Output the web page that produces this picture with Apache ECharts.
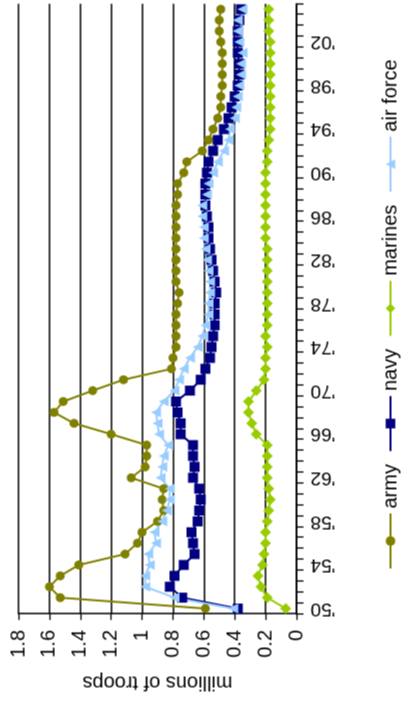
<!DOCTYPE html>
<html>
<head>
<meta charset="utf-8">
<script src="https://cdn.jsdelivr.net/npm/echarts@6/dist/echarts.min.js"></script>
<style>
html,body{margin:0;padding:0;width:409px;height:702px;overflow:hidden;background:#fff;}
#chart{position:absolute;width:702px;height:409px;left:-146.5px;top:146.5px;transform:rotate(-90deg);transform-origin:50% 50%;}
</style>
</head>
<body>
<div id="chart"></div>
<script>
// Years 1950..2005
const years = [1950,1951,1952,1953,1954,1955,1956,1957,1958,1959,1960,1961,1962,1963,1964,1965,1966,1967,1968,1969,
1970,1971,1972,1973,1974,1975,1976,1977,1978,1979,1980,1981,1982,1983,1984,1985,1986,1987,1988,1989,
1990,1991,1992,1993,1994,1995,1996,1997,1998,1999,2000,2001,2002,2003,2004,2005];

const army = [0.59,1.53,1.60,1.53,1.41,1.11,1.03,1.00,0.90,0.86,0.87,0.86,1.07,0.98,0.97,0.97,1.20,1.44,1.57,1.51,
1.32,1.12,0.81,0.80,0.78,0.78,0.78,0.78,0.77,0.76,0.78,0.78,0.78,0.78,0.78,0.78,0.78,0.78,0.77,0.77,
0.73,0.71,0.61,0.57,0.54,0.51,0.49,0.49,0.48,0.48,0.48,0.48,0.49,0.50,0.50,0.49];

const navy = [0.38,0.74,0.82,0.79,0.73,0.66,0.67,0.68,0.64,0.63,0.62,0.63,0.67,0.66,0.67,0.67,0.75,0.75,0.77,0.78,
0.69,0.62,0.59,0.56,0.55,0.54,0.53,0.53,0.53,0.52,0.53,0.54,0.55,0.56,0.57,0.57,0.58,0.59,0.59,0.59,
0.58,0.57,0.54,0.51,0.47,0.44,0.42,0.40,0.38,0.37,0.37,0.38,0.38,0.38,0.37,0.36];

const marines = [0.07,0.19,0.23,0.25,0.22,0.21,0.20,0.20,0.19,0.18,0.17,0.18,0.19,0.19,0.19,0.19,0.26,0.29,0.31,0.31,
0.26,0.21,0.20,0.20,0.19,0.20,0.19,0.19,0.19,0.19,0.19,0.19,0.19,0.19,0.20,0.20,0.20,0.20,0.20,0.20,
0.20,0.19,0.19,0.18,0.17,0.17,0.17,0.17,0.17,0.17,0.17,0.17,0.17,0.18,0.18,0.18];

const airForce = [0.41,0.79,0.98,0.98,0.95,0.96,0.91,0.92,0.87,0.84,0.82,0.82,0.88,0.87,0.86,0.83,0.89,0.90,0.91,0.86,
0.79,0.76,0.73,0.69,0.64,0.61,0.59,0.57,0.57,0.56,0.56,0.57,0.58,0.59,0.60,0.60,0.61,0.61,0.58,0.57,
0.54,0.51,0.47,0.44,0.43,0.40,0.39,0.38,0.37,0.36,0.36,0.35,0.37,0.38,0.38,0.35];

const seriesNames = ['army','navy','marines','air force'];
const valueTicks = [0,0.2,0.4,0.6,0.8,1,1.2,1.4,1.6,1.8];
const axisTitle = 'millions of troops';

const yearLabels = years.map(y => "'" + String(y).slice(2));

const FONT = '"Liberation Sans", Arial, sans-serif';
const chart = echarts.init(document.getElementById('chart'), null, {renderer:'canvas'});

function mk(name, data, color, symbol, size){
  return {
    name, type:'line', data, color,
    symbol, symbolSize:size, showSymbol:true, showAllSymbol:true,
    lineStyle:{color, width:2},
    itemStyle:{color, borderWidth:0},
    emphasis:{disabled:true},
    animation:false
  };
}

chart.setOption({
  animation:false,
  backgroundColor:'#ffffff',
  textStyle:{fontFamily:FONT, color:'#000'},
  grid:{left:88.5, right:3.3, top:18, bottom:113, containLabel:false},
  legend:{
    data:seriesNames,
    left:128, top:375,
    itemWidth:55, itemHeight:12, itemGap:12,
    textStyle:{fontSize:20, fontFamily:FONT, color:'#000', padding:[0,0,0,0]},
    selectedMode:false
  },
  xAxis:{
    type:'category',
    data:yearLabels,
    boundaryGap:true,
    axisLine:{show:true, lineStyle:{color:'#000', width:1.5}},
    axisTick:{show:true, interval:0, length:7, lineStyle:{color:'#000', width:1.3}},
    axisLabel:{interval:3, rotate:90, fontSize:19, fontFamily:FONT, color:'#000', margin:14},
    splitLine:{show:false}
  },
  yAxis:{
    type:'value',
    min:valueTicks[0], max:valueTicks[valueTicks.length-1], interval:0.2,
    name:axisTitle, nameLocation:'middle', nameGap:58,
    nameTextStyle:{fontSize:20, fontFamily:FONT, color:'#000'},
    axisLine:{show:true, lineStyle:{color:'#000', width:1.5}},
    axisTick:{show:true, length:6, lineStyle:{color:'#000', width:1.3}},
    axisLabel:{fontSize:20, fontFamily:FONT, color:'#000', margin:16},
    splitLine:{show:true, lineStyle:{color:'#000', width:1.5}}
  },
  series:[
    mk(seriesNames[0], army, '#808000', 'circle', 9),
    mk(seriesNames[1], navy, '#000080', 'rect', 10),
    mk(seriesNames[2], marines, '#99CC00', 'diamond', 11),
    mk(seriesNames[3], airForce, '#99CCFF', 'triangle', 10)
  ]
});
</script>
</body>
</html>
